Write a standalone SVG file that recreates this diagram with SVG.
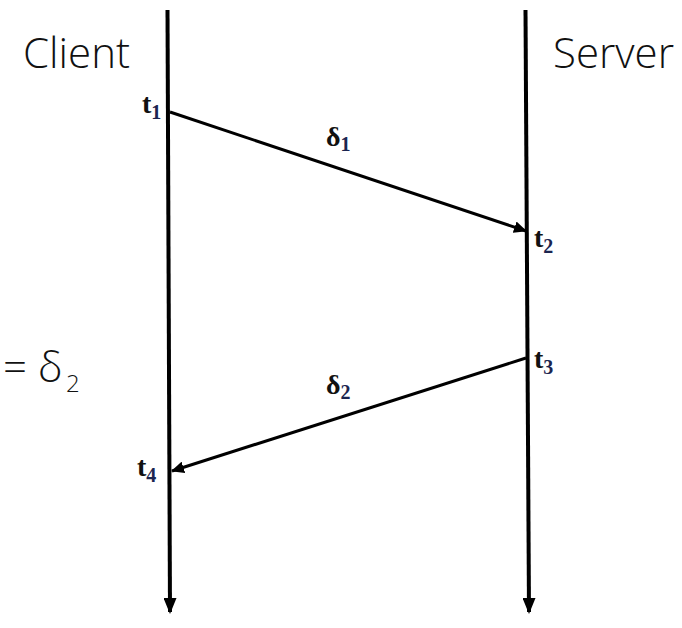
<svg xmlns="http://www.w3.org/2000/svg" width="682" height="628" viewBox="0 0 682 628">
  <defs>
    <style>
      .title { font-family: "Open Sans", "Liberation Sans", sans-serif; font-weight: 300; font-size: 42px; fill: #111; }
      .eqsub { font-family: "Open Sans", "Liberation Sans", sans-serif; font-weight: 300; font-size: 24px; fill: #111; }
      .lbl { font-family: "Liberation Serif", serif; font-weight: bold; font-size: 28px; fill: #111; }
      .sub { font-size: 20px; fill: #1b2550; }
      .life { stroke: #000; stroke-width: 4; fill: none; }
      .msg { stroke: #000; stroke-width: 3; fill: none; }
    </style>
    <marker id="headBig" viewBox="0 0 16 13" refX="14" refY="6.5" markerWidth="16" markerHeight="13" markerUnits="userSpaceOnUse" orient="auto">
      <path d="M0,0 L16,6.5 L0,13 Z" fill="#000"/>
    </marker>
    <marker id="headSmall" viewBox="0 0 13 12" refX="12" refY="6" markerWidth="13" markerHeight="12" markerUnits="userSpaceOnUse" orient="auto">
      <path d="M0,0 L13,6 L0,12 Z" fill="#000"/>
    </marker>
  </defs>

  <g id="client">
    <text class="title" x="23" y="68">Client</text>
  </g>
  <g id="server">
    <text class="title" x="553" y="68">Server</text>
  </g>
  <g id="equation">
    <text class="title" x="3" y="382">= δ</text>
    <text class="eqsub" x="66" y="392">2</text>
  </g>

  <g id="labels">
    <text class="lbl" x="142" y="113">t<tspan class="sub" dy="6">1</tspan></text>
    <text class="lbl" x="534" y="247">t<tspan class="sub" dy="6">2</tspan></text>
    <text class="lbl" x="534" y="368">t<tspan class="sub" dy="6">3</tspan></text>
    <text class="lbl" x="137" y="476">t<tspan class="sub" dy="6">4</tspan></text>
    <text class="lbl" x="326" y="146">δ<tspan class="sub" dy="5">1</tspan></text>
    <text class="lbl" x="326" y="394">δ<tspan class="sub" dy="5">2</tspan></text>
  </g>

  <g id="connectors">
    <line class="life" x1="167.5" y1="10" x2="170" y2="612"/>
    <line class="life" x1="525.5" y1="10" x2="529" y2="612"/>
    <line class="life" x1="170" y1="610" x2="170" y2="612" marker-end="url(#headBig)"/>
    <line class="life" x1="529" y1="610" x2="529" y2="612" marker-end="url(#headBig)"/>
    <line class="msg" x1="170" y1="112" x2="526" y2="231" marker-end="url(#headSmall)"/>
    <line class="msg" x1="526" y1="358" x2="172" y2="471" marker-end="url(#headSmall)"/>
  </g>
</svg>
